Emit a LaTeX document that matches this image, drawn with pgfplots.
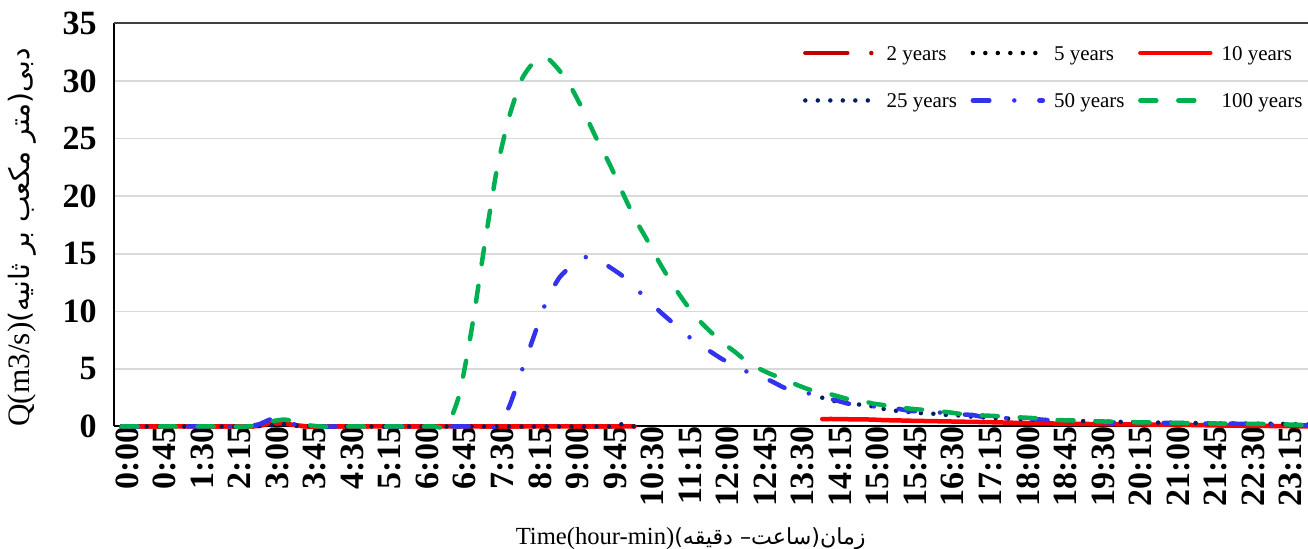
\documentclass[border=0pt]{standalone}
\usepackage{fontspec}
\setmainfont{Liberation Serif}
\newfontfamily\pf[Script=Arabic,Scale=0.9]{DejaVu Sans}
\TeXXeTstate=1
\usepackage{pgfplots}
\usepackage{pgfplotstable}
\pgfplotsset{compat=1.18}

\definecolor{c2}{HTML}{C00000}
\definecolor{c10}{HTML}{FF0000}
\definecolor{c25}{HTML}{002060}
\definecolor{c50}{HTML}{3333EE}
\definecolor{c100}{HTML}{00B050}
\definecolor{gridgray}{HTML}{D9D9D9}

% discharge (m3/s) every 15 min, t in minutes
\pgfplotstableread{
t    y2   y5   y10  y25  y50   y100
0    0    0    0    0    0     0
15   0    0    0    0    0     0
30   0    0    0    0    0     0
45   0    0    0    0    0     0
60   0    0    0    0    0     0
75   0    0    0    0    0     0
90   0    0    0    0    0     0
105  0    0    0    0    0     0
120  0    0    0    0    0     0
135  0    0    0    0    0     0
150  0    0    0    0    0     0
165  0.05 0.05 0.05 0.05 0.2   0.1
180  0.25 0.2  0.3  0.1  0.65  0.45
195  0.15 0.15 0.25 0.2  0.4   0.6
210  0.05 0.05 0.1  0.1  0.15  0.4
225  0    0    0    0.05 0.05  0.1
240  0    0    0    0    0     0
255  0    0    0    0    0     0
270  0    0    0    0    0     0
285  0    0    0    0    0     0
300  0    0    0    0    0     0
315  0    0    0    0    0     0
330  0    0    0    0    0     0
345  0    0    0    0    0     0
360  0    0    0    0    0     0
375  0    0    0    0    0     0
390  0    0    0    0    0     0
405  0    0    0    0    0     2.8
420  0    0    0    0    0     8.6
435  0    0    0    0    0     15.7
450  0    0    0    0    0     22.4
465  0    0    0    0    1.8   27.0
480  0    0    0    0    4.9   30.2
495  0    0    0    0    8.0   31.7
510  0    0    0    0    11.05 32.0
525  0    0    0    0    12.95 30.9
540  0    0    0    0    14.0  29.3
555  0    0    0    0    14.7  27.2
570  0    0    0    0    14.55 24.9
585  0    0    0    0    13.85 22.8
600  0    0    0    0.2  13.1  20.4
615  0    0    0    0    12.05 18.1
630  nan  nan  nan  nan  11.1  16.2
645  nan  nan  nan  nan  10.0  14.2
660  nan  nan  nan  nan  9.05  12.4
675  nan  nan  nan  nan  8.05  10.8
690  nan  nan  nan  nan  7.3   9.4
705  nan  nan  nan  nan  6.55  8.3
720  nan  nan  nan  nan  5.85  7.3
735  nan  nan  nan  nan  5.3   6.5
750  nan  nan  nan  nan  4.75  5.6
765  nan  nan  nan  nan  4.4   5.0
780  nan  nan  nan  nan  3.9   4.5
795  nan  nan  nan  nan  3.35  4.1
810  nan  nan  nan  nan  3.1   3.6
825  nan  nan  nan  nan  2.85  3.2
840  nan  nan  0.65 2.5  2.55  3.0
855  nan  nan  0.65 2.2  2.3   2.7
870  nan  nan  0.63 2.05 2.0   2.4
885  nan  nan  0.62 1.9  1.85  2.3
900  nan  nan  0.6  1.75 1.75  2.0
915  nan  nan  0.55 1.5  1.65  1.85
930  nan  nan  0.53 1.35 1.55  1.7
945  nan  nan  0.5  1.25 1.35  1.55
960  nan  nan  0.48 1.15 1.3   1.45
975  nan  nan  0.46 1.1  1.25  1.35
990  nan  nan  0.44 1.0  1.15  1.25
1005 nan  nan  0.42 0.95 1.05  1.1
1020 nan  nan  0.4  0.85 1.0   1.0
1035 nan  nan  0.38 0.78 0.8   0.95
1050 nan  nan  0.36 0.72 0.75  0.9
1065 nan  nan  0.33 0.68 0.72  0.8
1080 nan  nan  0.31 0.64 0.7   0.78
1095 nan  nan  0.29 0.6  0.65  0.72
1110 nan  nan  0.27 0.57 0.55  0.6
1125 nan  nan  0.25 0.54 0.5   0.55
1140 nan  nan  0.24 0.5  0.5   0.53
1155 nan  nan  0.22 0.47 0.48  0.5
1170 nan  nan  0.21 0.45 0.45  0.45
1185 nan  nan  0.2  0.43 0.35  0.42
1200 nan  nan  0.19 0.4  0.35  0.4
1215 nan  nan  0.18 0.38 0.35  0.37
1230 nan  nan  0.17 0.36 0.33  0.35
1245 nan  nan  0.16 0.34 0.32  0.33
1260 nan  nan  0.15 0.33 0.3   0.32
1275 nan  nan  0.14 0.32 0.28  0.3
1290 nan  nan  0.12 0.3  0.27  0.28
1305 nan  nan  0.1  0.28 0.25  0.27
1320 nan  nan  0.08 0.27 0.25  0.25
1335 nan  nan  0.07 0.26 0.24  0.24
1350 nan  nan  0.06 0.25 0.22  0.23
1365 nan  nan  0.05 0.24 0.18  0.22
1380 nan  nan  0.04 0.24 0.15  0.2
1395 nan  nan  0.03 0.22 0.12  0.18
1410 nan  nan  0.02 0.2  0.1   0.15
1425 nan  nan  0.01 0.18 0.08  0.1
}\flow

\newcommand{\legtxt}[1]{\makebox[46.5pt][l]{\hspace{4.5pt}\strut #1}}

\begin{document}
\begin{tikzpicture}
\begin{axis}[
    scale only axis,
    width=597pt, height=201.5pt,
    xmin=-9.2, xmax=1422.4,
    ymin=0, ymax=35,
    clip=false,
    axis x line*=bottom, axis y line*=left,
    axis line style={-, black, line width=1pt},
    major tick length=0pt,
    xtick={0,45,...,1395},
    xticklabels={0:00,0:45,1:30,2:15,3:00,3:45,4:30,5:15,6:00,6:45,7:30,8:15,9:00,9:45,10:30,11:15,12:00,12:45,13:30,14:15,15:00,15:45,16:30,17:15,18:00,18:45,19:30,20:15,21:00,21:45,22:30,23:15},
    ytick={0,5,...,35},
    xticklabel style={rotate=90, anchor=east, inner sep=0pt, yshift=-2.75pt,
        font=\fontsize{17}{20}\selectfont\bfseries},
    yticklabel style={anchor=east, inner sep=0pt, xshift=-8.5pt,
        font=\fontsize{17}{20}\selectfont\bfseries},
    /pgf/number format/assume math mode=true,
    ymajorgrids,
    grid style={gridgray, line width=0.75pt},
    extra y ticks={35}, extra y tick labels={},
    extra y tick style={grid style={black!75, line width=1pt}},
    unbounded coords=jump,
    no markers,
    every axis plot/.append style={line width=2.25pt, line cap=round, line join=round, smooth, tension=0.35},
    xlabel={Time(hour-min){\pf\beginR زمان(ساعت– دقیقه)\endR}},
    xlabel style={at={(axis description cs:0.483,-0.278)}, anchor=center,
        font=\fontsize{12.3}{15}\selectfont},
    ylabel={Q(m3/s){\pf\beginR دبی(متر مکعب بر ثانیه)\endR}},
    ylabel style={at={(axis description cs:-0.077,0.469)}, anchor=center,
        font=\fontsize{15.6}{18}\selectfont},
    legend columns=3,
    legend image code/.code={\draw[#1] (0pt,0pt) -- (35pt,0pt);},
    legend style={at={(axis description cs:0.5771,1)}, anchor=north west,
        yshift=-9.6pt, draw=none, fill=none, inner sep=0pt, outer sep=0pt,
        column sep=0pt, row sep=13.4pt, cells={anchor=west},
        nodes={inner sep=0pt}, font=\fontsize{10.5}{12.6}\selectfont},
]
\addplot[c2, dash pattern=on 21pt off 12pt on 0pt off 12pt] table[x=t, y=y2] {\flow};
\addplot[black, dash pattern=on 0pt off 6.25pt] table[x=t, y=y5] {\flow};
\addplot[c10] table[x=t, y=y10] {\flow};
\addplot[c25, dash pattern=on 0pt off 6.25pt] table[x=t, y=y25] {\flow};
\addplot[c50, dash pattern=on 8.25pt off 12.5pt on 0pt off 12.5pt] table[x=t, y=y50] {\flow};
\addplot[c100, dash pattern=on 8pt off 11pt] table[x=t, y=y100] {\flow};
\legend{\legtxt{2 years}, \legtxt{5 years}, \legtxt{10 years}, \legtxt{25 years}, \legtxt{50 years}, \legtxt{100 years}}
\end{axis}
\pgfresetboundingbox
\path ([shift={(-57pt,-61.25pt)}]current axis.south west) rectangle ([shift={(0pt,11.75pt)}]current axis.north east);
\end{tikzpicture}
\end{document}
